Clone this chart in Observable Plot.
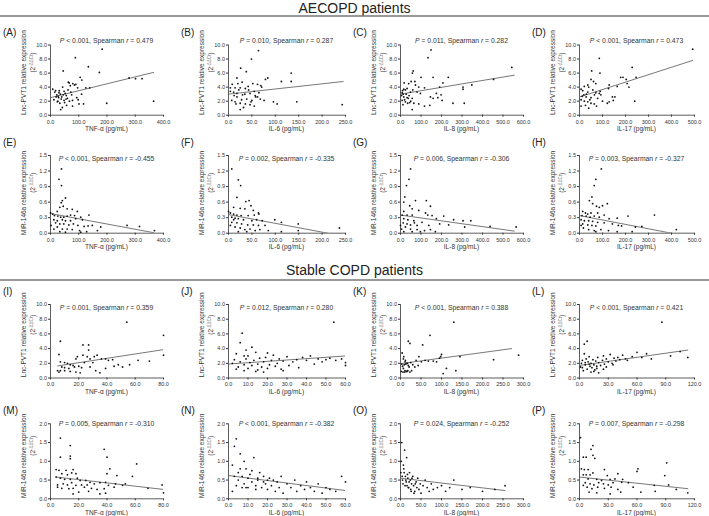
<!DOCTYPE html>
<html><head><meta charset="utf-8">
<script src="https://cdn.jsdelivr.net/npm/d3@7"></script>
<script src="https://cdn.jsdelivr.net/npm/@observablehq/plot@0.6"></script>
<style>
body{margin:0;background:#fff;}
#fig{position:relative;width:709px;height:516px;overflow:hidden;background:#fff;}
#fig svg{position:absolute;left:0;top:0;}
</style></head><body><div id="fig"></div><script>
const FONT = "Liberation Sans, Arial, Helvetica, sans-serif";
// ---------- tick labels ----------
const xTicksTNFa = [0,100,200,300,400], xTicksIL6a = [0,50,100,150,200,250], xTicksIL8a = [0,100,200,300,400,500,600], xTicksIL17a = [0,100,200,300,400,500];
const xTicksTNFs = [0,20,40,60,80], xTicksIL6s = [0,10,20,30,40,50,60], xTicksIL8s = [0,50,100,150,200,250,300], xTicksIL17s = [0,30,60,90,120];
const yTicksLnc = [0,2,4,6,8,10], yTicksMirA = [0,0.3,0.6,0.9,1.2,1.5], yTicksMirS = [0,0.5,1.0,1.5,2.0];
const xLabels = ["TNF-α (pg/mL)","IL-6 (pg/mL)","IL-8 (pg/mL)","IL-17 (pg/mL)"];
const yLabels = ["Lnc-PVT1 relative expression","MiR-146a relative expression"];
const headers = ["AECOPD patients","Stable COPD patients"];
const letters = ["A","B","C","D","E","F","G","H","I","J","K","L","M","N","O","P"];
const pStats = ["< 0.001","= 0.010","= 0.011","< 0.001","< 0.001","= 0.002","= 0.006","= 0.003","= 0.001","= 0.012","< 0.001","< 0.001","= 0.005","< 0.001","= 0.024","= 0.007"];
const rStats = ["0.479","0.287","0.282","0.473","-0.455","-0.335","-0.306","-0.327","0.359","0.280","0.388","0.421","-0.310","-0.382","-0.252","-0.298"];

// ---------- points ----------
const aX = [183,88,134,45,173,105,111,278,301,324,66,79,90,43,8,18,31,48,72,96,125,139,56,29,38,12,48,67,78,93,98,24,33,57,78,101,117,42,36,199,365,22,27,35,40,52,60,63,70,85,26,30,45,50,15,20,62,75,110,55];
const aY = [9.4,8.2,6.9,6.3,6.1,5.4,5.0,5.3,5.2,5.2,4.6,4.5,4.4,4.0,3.7,3.5,3.5,3.4,3.3,3.9,3.9,3.9,2.8,2.5,2.3,2.2,2.1,2.0,2.1,2.5,2.2,1.9,1.7,1.4,1.3,1.6,1.6,1.1,0.8,1.7,2.0,2.9,2.7,3.0,2.6,3.1,2.4,4.7,4.2,4.3,2.0,3.2,2.9,1.8,3.3,2.6,3.6,2.9,3.0,2.3];
const bX = [64,49,26,38,134,84,79,113,134,18,29,20,52,62,69,71,14,25,36,43,4,11,18,46,57,62,68,76,7,14,25,36,46,55,25,32,96,104,146,243,4,18,39,50,12,22,30,42,55,65,16,48,58,35,8,28];
const bY = [9.2,8.0,6.7,6.2,6.0,5.3,5.1,4.8,4.8,5.3,4.7,4.5,4.5,4.4,4.2,4.0,3.9,3.9,3.8,3.6,3.4,3.3,3.1,3.1,2.8,2.6,2.3,2.1,2.1,1.9,1.7,1.6,1.5,1.3,0.8,1.1,1.9,1.6,1.9,1.5,3.9,2.6,2.3,2.1,2.8,3.6,2.9,4.1,3.4,3.2,1.6,1.9,2.6,3.0,4.4,2.2];
const cX = [149,134,62,543,233,100,159,454,58,52,70,40,73,89,117,191,207,305,305,348,16,24,32,49,81,97,175,198,16,32,57,146,159,182,203,8,24,45,65,89,117,143,256,311,57,13,8,5,10,20,28,35,42,50,12,18,60,38];
const cY = [9.3,8.2,6.3,6.8,5.4,5.4,5.4,5.1,6.0,4.8,4.8,4.5,4.3,4.0,3.9,4.0,4.6,4.0,3.7,4.3,3.7,3.6,3.8,3.3,3.3,3.1,3.1,2.9,2.6,2.5,2.4,2.6,2.4,2.5,2.1,2.1,1.9,1.8,1.7,1.6,1.3,1.4,1.7,1.7,0.8,3.0,3.2,2.8,3.5,2.2,3.0,1.7,2.8,2.0,1.5,4.6,3.6,2.4];
const dX = [492,86,229,53,89,179,189,203,246,50,61,71,36,40,21,129,126,164,207,215,7,14,36,71,86,93,19,29,50,79,143,154,147,7,21,36,50,64,74,121,40,240,129,7,26,30,45,58,12,90,100,65];
const dY = [9.4,8.1,6.8,6.3,6.0,5.4,5.4,5.1,5.4,5.1,4.8,4.5,4.3,4.0,4.1,4.3,3.8,4.1,4.5,4.0,3.7,3.5,3.3,3.2,3.1,2.9,2.9,2.6,2.5,2.4,2.6,2.6,2.1,2.2,2.0,1.9,1.7,1.6,1.3,1.7,1.0,2.0,1.9,1.3,1.4,3.0,2.2,3.6,2.7,3.4,2.0,2.9];
const eX = [39,30,39,53,42,38,33,45,24,0,8,59,77,95,14,26,36,47,59,71,85,107,136,12,24,42,53,71,89,113,18,33,47,65,81,97,119,133,148,178,271,315,368,24,42,59,77,103,128,166,53,107,33,2,12];
const eY = [1.24,1.04,0.92,0.68,0.63,0.59,0.50,0.52,0.42,0.39,0.37,0.47,0.46,0.42,0.34,0.33,0.31,0.31,0.33,0.35,0.34,0.31,0.35,0.26,0.24,0.26,0.24,0.24,0.28,0.26,0.20,0.18,0.18,0.16,0.18,0.15,0.13,0.14,0.15,0.12,0.15,0.13,0.05,0.12,0.08,0.08,0.07,0.05,0.03,0.05,0.02,0.02,0.03,0.15,0.08];
const fX = [7,21,26,18,37,44,48,11,25,35,53,64,0,4,11,18,27,42,55,65,99,113,149,7,14,21,32,50,60,72,7,18,28,41,53,64,78,14,25,35,46,57,67,85,113,149,237,21,4,39,11];
const fY = [1.24,1.03,0.92,0.69,0.61,0.63,0.53,0.50,0.48,0.47,0.44,0.39,0.42,0.39,0.37,0.35,0.34,0.34,0.35,0.37,0.26,0.21,0.18,0.31,0.29,0.28,0.26,0.24,0.26,0.24,0.21,0.20,0.18,0.16,0.16,0.15,0.15,0.12,0.10,0.07,0.08,0.05,0.07,0.05,0.03,0.05,0.10,0.03,0.15,0.03,0.26];
const gX = [49,41,29,21,16,73,126,146,45,57,16,89,122,8,32,57,133,154,211,259,305,343,175,16,36,65,105,13,32,49,81,138,191,235,313,437,564,24,49,81,117,146,16,57,170,97,0,5,68];
const gY = [1.24,1.04,0.92,0.70,0.60,0.63,0.63,0.52,0.53,0.47,0.42,0.44,0.39,0.35,0.35,0.35,0.35,0.34,0.33,0.26,0.24,0.24,0.28,0.28,0.26,0.24,0.21,0.20,0.18,0.16,0.15,0.15,0.18,0.16,0.12,0.13,0.12,0.12,0.08,0.07,0.05,0.07,0.03,0.03,0.03,0.03,0.15,0.08,0.20];
const hX = [95,71,64,54,43,57,74,86,100,121,14,26,36,50,79,107,11,29,46,64,86,129,164,211,326,7,21,40,57,79,107,143,169,14,36,54,71,183,243,271,17,40,64,93,126,164,229,421,7,71];
const hY = [1.24,1.04,0.92,0.70,0.63,0.57,0.52,0.50,0.53,0.57,0.42,0.39,0.37,0.39,0.39,0.35,0.34,0.33,0.31,0.33,0.31,0.28,0.29,0.33,0.35,0.26,0.24,0.24,0.23,0.21,0.20,0.18,0.15,0.18,0.16,0.15,0.14,0.14,0.12,0.13,0.10,0.07,0.05,0.07,0.05,0.03,0.03,0.07,0.15,0.03];
const iX = [54,80,7,23,27,27,6,18,19,23,26,28,31,33,36,39,41,44,7,10,12,14,16,17,20,22,8,10,13,7,10,14,18,21,28,32,35,39,45,48,51,56,62,70,80,6,24,30,5];
const iY = [7.6,5.8,5.0,4.5,4.5,3.8,3.2,2.6,2.9,3.1,2.9,2.6,2.9,3.1,2.6,2.6,2.4,2.5,2.2,2.1,2.0,1.8,1.7,1.5,1.6,1.4,1.5,1.4,1.3,1.0,1.0,0.9,0.8,0.7,1.5,1.0,0.7,1.3,1.6,1.8,1.5,1.8,2.4,2.3,3.1,0.8,2.1,2.1,1.0];
const jX = [2,3,4,5,6,7,8,8,9,10,10,11,12,13,14,15,15,16,17,18,19,20,21,22,23,24,25,26,27,28,30,31,33,35,36,38,40,42,44,46,48,50,52,55,58,60,60,6,9,12,4,14,18,54,8,20,28];
const jY = [2.0,2.5,3.3,1.5,2.2,6.1,1.0,1.8,2.6,3.0,1.3,2.1,1.7,2.4,3.5,1.1,1.9,2.7,1.5,2.2,2.8,1.3,1.8,2.4,3.1,1.6,2.0,2.6,1.2,2.3,2.9,1.7,2.2,2.5,1.4,2.8,2.4,3.0,1.9,2.6,2.2,2.5,2.7,2.4,2.6,1.7,2.1,4.8,3.8,4.2,1.2,0.9,0.8,7.6,3.0,3.4,1.0];
const kX = [130,72,19,23,54,100,98,145,227,288,7,11,15,19,7,11,16,23,27,35,43,51,60,68,80,88,95,112,135,104,3,5,9,13,17,21,25,30,38,45,2,6,10,14,18,4,8,12];
const kY = [7.6,5.8,5.0,4.7,4.5,3.2,2.9,2.9,2.5,3.1,2.6,2.2,2.0,1.7,1.3,1.0,0.9,0.8,1.0,1.5,1.7,2.2,2.4,2.3,2.3,2.2,2.7,1.3,1.0,0.6,1.9,1.6,1.8,1.9,2.0,1.5,2.1,1.8,2.4,2.9,0.9,0.8,0.8,0.9,1.0,3.4,2.9,2.4];
const lX = [1,2,3,4,5,6,7,8,9,10,11,12,13,14,15,16,17,18,19,20,22,24,25,26,28,30,32,34,36,38,40,42,45,48,50,55,60,65,70,75,86,95,105,113,5,8,12,15,20,25,3,10,18,28,35,6];
const lY = [1.5,2.0,2.4,1.0,3.3,1.8,2.6,1.2,2.2,2.9,1.6,2.0,1.4,2.5,1.8,1.1,2.3,1.6,2.8,2.1,1.7,2.4,3.0,1.9,2.6,2.2,3.2,2.0,2.7,2.3,2.8,2.5,3.1,2.6,2.4,2.9,3.5,2.8,3.3,2.6,7.6,3.0,3.6,2.8,4.6,5.0,0.8,0.9,0.7,1.2,1.4,1.9,1.3,1.5,1.8,2.1];
const mX = [7,14,38,40,14,14,7,42,61,4,6,11,16,8,12,15,18,40,47,58,4,7,10,14,19,21,25,28,9,12,15,18,22,26,31,35,39,41,46,51,53,5,8,13,16,24,29,33,38,45,5,20,27,35,39,69,79,80,16];
const mY = [1.62,1.42,1.32,1.11,1.14,1.07,1.11,0.80,0.93,0.78,0.76,0.76,0.78,0.67,0.64,0.69,0.67,0.67,0.62,0.60,0.58,0.55,0.52,0.52,0.55,0.49,0.49,0.44,0.40,0.37,0.43,0.36,0.37,0.37,0.40,0.43,0.44,0.36,0.40,0.36,0.40,0.31,0.28,0.27,0.28,0.31,0.28,0.25,0.27,0.31,0.37,0.18,0.20,0.13,0.15,0.28,0.37,0.16,0.13];
const nX = [2,3,4,5,5,6,7,8,9,10,10,11,12,13,14,15,16,17,18,19,20,21,22,23,24,25,26,27,28,30,32,34,35,37,39,40,42,44,46,48,50,52,55,58,60,3,6,8,12,15,18,4,9,14,20,2,7];
const nY = [0.9,1.4,1.6,0.7,0.5,1.2,0.6,0.4,0.8,0.55,0.3,0.65,0.45,1.1,0.35,0.5,0.7,0.3,0.6,0.4,0.25,0.55,0.35,0.5,0.2,0.45,0.3,0.6,0.15,0.4,0.3,0.5,0.2,0.35,0.25,0.45,0.3,0.2,0.4,0.15,0.3,0.25,0.2,0.6,0.45,0.6,0.8,1.0,0.75,0.55,0.45,0.35,0.3,0.25,0.5,0.2,0.3];
const oX = [1,2,3,5,6,8,10,12,14,15,16,18,20,22,24,25,27,30,32,35,38,40,42,45,48,50,55,60,65,70,75,80,90,100,110,120,130,150,170,200,230,255,4,7,9,11,13,17,19,21,26,28,33,36];
const oY = [0.7,1.0,1.5,0.5,0.4,0.8,1.3,0.6,0.45,1.1,0.35,0.55,0.3,0.7,0.5,0.25,0.4,0.6,0.35,0.2,0.45,0.3,0.55,0.25,0.4,0.15,0.35,0.5,0.3,0.2,0.4,0.25,0.3,0.35,0.2,0.3,0.5,0.25,0.3,0.2,0.25,0.35,0.6,0.9,0.7,0.35,0.5,0.65,0.3,0.45,0.2,0.55,0.15,0.4];
const pX = [1,14,12,14,16,4,7,91,61,60,2,5,9,26,4,7,11,14,29,40,89,9,18,23,32,37,45,6,11,15,20,25,30,35,44,51,78,93,8,13,19,26,33,40,56,79,64,101,113,10,18,32,43,4];
const pY = [1.63,1.42,1.32,1.16,1.08,1.11,1.11,0.96,0.80,0.73,0.80,0.78,0.78,0.78,0.64,0.64,0.64,0.69,0.62,0.67,0.62,0.53,0.52,0.49,0.52,0.53,0.52,0.43,0.40,0.37,0.43,0.40,0.37,0.43,0.44,0.43,0.36,0.37,0.31,0.27,0.31,0.28,0.31,0.25,0.31,0.20,0.18,0.25,0.16,0.18,0.16,0.13,0.18,0.36];

// ---------- regression line end points ----------
const fitX = [[0,365],[0,245],[0,555],[0,492],[0,365],[0,212],[0,555],[0,400],[5,80],[0,60],[0,271],[0,113],[4,80],[0,60],[0,255],[0,113]];
const fitY = [[2.5,6.1],[3.0,4.8],[3.0,5.7],[2.6,7.8],[0.38,0.01],[0.36,0.0],[0.35,0.04],[0.34,0.0],[1.64,3.86],[1.9,3.0],[1.95,4.0],[1.7,3.8],[0.58,0.25],[0.62,0.22],[0.55,0.22],[0.58,0.27]];

const ptsX = [aX,bX,cX,dX,eX,fX,gX,hX,iX,jX,kX,lX,mX,nX,oX,pX];
const ptsY = [aY,bY,cY,dY,eY,fY,gY,hY,iY,jY,kY,lY,mY,nY,oY,pY];
const xTicks = [xTicksTNFa,xTicksIL6a,xTicksIL8a,xTicksIL17a,xTicksTNFa,xTicksIL6a,xTicksIL8a,xTicksIL17a,
                xTicksTNFs,xTicksIL6s,xTicksIL8s,xTicksIL17s,xTicksTNFs,xTicksIL6s,xTicksIL8s,xTicksIL17s];
const yTicks = [yTicksLnc,yTicksMirA,yTicksLnc,yTicksMirS];

// ---------- layout ----------
const W = 709, H = 516;
const colL = [50,228,400,579], colR = [163,345,523,694];
const rowT = [44.5,155,304,423.3], rowB = [114.7,232.7,377.5,498.3];
const annDy = [-1.5,6,6,3];
const ylabOff = [-7,-1,-6,-5];
const INK = "#333";

const fig = document.getElementById("fig");

// base svg with section headers
const base = d3.select(fig).append("svg").attr("width",W).attr("height",H).style("font-family",FONT);
[[13,16],[275,280]].forEach(([ty,ly],i)=>{
  base.append("text").attr("x",W/2).attr("y",ty).attr("text-anchor","middle").attr("font-size",14).attr("fill","#222").text(headers[i]);
  base.append("line").attr("x1",0).attr("x2",W).attr("y1",ly).attr("y2",ly).attr("stroke","#777").attr("stroke-width",1.6);
});

for (let k=0;k<16;k++){
  const row = Math.floor(k/4), col = k%4;
  const L = colL[col], R = colR[col], T = rowT[row], B = rowB[row];
  const xt = xTicks[k], yt = yTicks[row];
  const data = ptsX[k].map((x,i)=>({x, y: ptsY[k][i]})).filter(d=>d.y!=null);
  const fit = fitX[k].map((x,i)=>({x, y: fitY[k][i]}));
  const plot = Plot.plot({
    width: W, height: H,
    marginLeft: L, marginRight: W-R, marginTop: T, marginBottom: H-B,
    style: {background:"transparent", fontFamily: FONT, color: INK, overflow:"visible"},
    x: {domain:[0, xt[xt.length-1]]},
    y: {domain:[0, yt[yt.length-1]]},
    marks: [
      Plot.axisX({ticks: xt, tickFormat: d3.format(".1f"), tickSize: 2, tickPadding: 2.5, fontSize: 5.5, label: null, stroke: INK, fill: INK}),
      Plot.axisY({ticks: yt, tickFormat: d3.format(".1f"), tickSize: 2, tickPadding: 1.5, fontSize: 5.5, label: null, stroke: INK, fill: INK}),
      Plot.ruleX([0], {stroke: INK, strokeWidth: 0.8}),
      Plot.ruleY([0], {stroke: INK, strokeWidth: 0.8}),
      Plot.line(fit, {x:"x", y:"y", stroke:"#555", strokeWidth: 0.8, clip: true}),
      Plot.dot(data, {x:"x", y:"y", r: 0.9, fill:"#111", stroke:"none"})
    ]
  });
  fig.appendChild(plot);
  const g = d3.select(plot).append("g").attr("font-family",FONT).attr("fill",INK).style("white-space","pre");
  g.append("text").attr("x",L-47).attr("y",T-9).attr("font-size",10).attr("text-anchor","start").attr("fill","#222").text(`(${letters[k]})`);
  const ann = g.append("text").attr("x",(L+R)/2).attr("y",T+annDy[row]).attr("font-size",6.8).attr("text-anchor","middle");
  ann.append("tspan").attr("font-style","italic").text("P");
  ann.append("tspan").text(` ${pStats[k]}, Spearman `);
  ann.append("tspan").attr("font-style","italic").text("r");
  ann.append("tspan").text(` = ${rStats[k]}`);
  g.append("text").attr("x",(L+R)/2).attr("y",B+16.3).attr("font-size",6.5).attr("text-anchor","middle").text(xLabels[col]);
  const cy = (T+B)/2 + ylabOff[row];
  g.append("text").attr("transform",`translate(${L-24},${cy}) rotate(-90)`).attr("text-anchor","middle").attr("font-size",6.5).text(yLabels[row%2]);
  const t2 = g.append("text").attr("transform",`translate(${L-15},${cy-10}) rotate(-90)`).attr("text-anchor","middle").attr("font-size",6.5);
  t2.append("tspan").text("(2");
  t2.append("tspan").attr("dy",-2.5).attr("font-size",4.5).attr("fill","#777").text("-ΔΔCt");
  t2.append("tspan").attr("dy",2.5).text(")");
}
</script></body></html>
